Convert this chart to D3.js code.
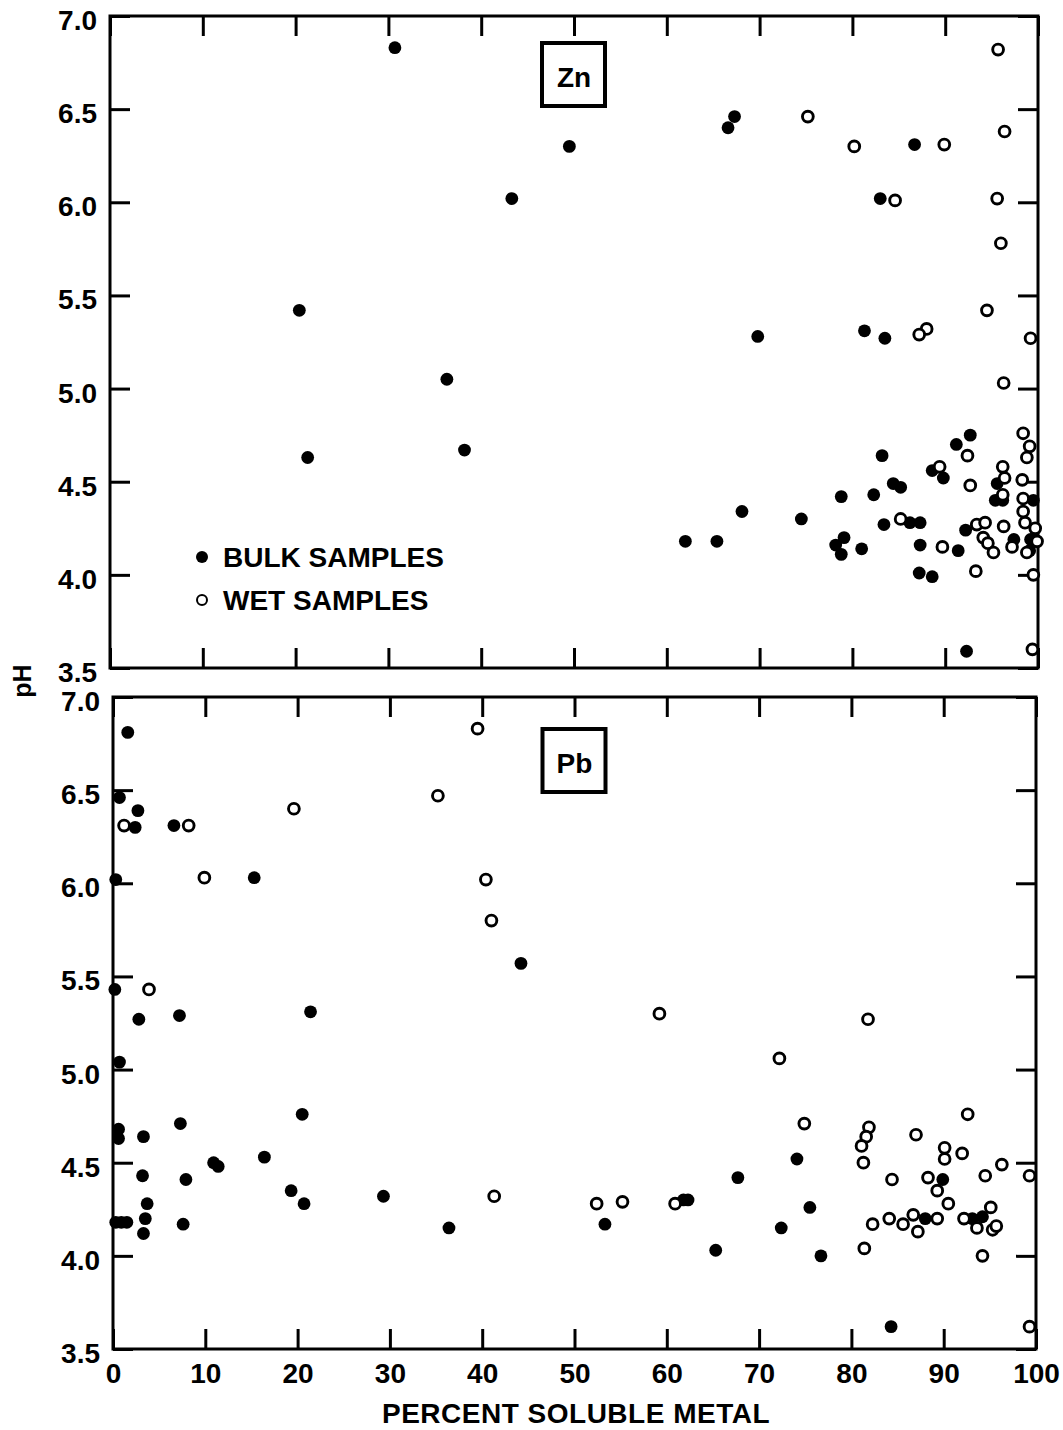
<!DOCTYPE html>
<html>
<head>
<meta charset="utf-8">
<script src="https://cdn.jsdelivr.net/npm/d3@7"></script>
<style>
  html, body { margin: 0; padding: 0; background: #fff; }
  svg { display: block; }
  text { font-family: "Liberation Sans", Arial, Helvetica, sans-serif; font-weight: bold; fill: #000; }
</style>
</head>
<body>
<svg id="chart" width="1063" height="1430"></svg>
<script>
// Axis ticks
const xTicks = [0, 10, 20, 30, 40, 50, 60, 70, 80, 90, 100];
const yTicks = [3.5, 4.0, 4.5, 5.0, 5.5, 6.0, 6.5, 7.0];

// Zn: [percent soluble metal, pH]
const znBulk = [
  [30.7, 6.83], [43.3, 6.02], [49.5, 6.30], [20.4, 5.42], [21.3, 4.63], [36.3, 5.05], [38.2, 4.67],
  [67.3, 6.46], [66.6, 6.40], [86.7, 6.31], [83.0, 6.02], [69.8, 5.28], [81.3, 5.31], [83.5, 5.27],
  [62.0, 4.18], [65.4, 4.18], [68.1, 4.34], [74.5, 4.30], [78.8, 4.42], [79.1, 4.20], [78.2, 4.16],
  [78.8, 4.11], [81.0, 4.14], [82.3, 4.43], [83.2, 4.64], [83.4, 4.27], [84.4, 4.49], [85.2, 4.47],
  [86.2, 4.28], [87.3, 4.28], [87.3, 4.16], [87.2, 4.01], [88.6, 3.99], [88.6, 4.56], [89.8, 4.52],
  [91.2, 4.70], [92.7, 4.75], [91.4, 4.13], [92.2, 4.24], [92.3, 3.59], [95.6, 4.49], [95.4, 4.40],
  [96.2, 4.40], [99.5, 4.40], [97.4, 4.19], [99.2, 4.19], [99.1, 4.13]
];
const znWet = [
  [95.7, 6.82], [75.2, 6.46], [96.4, 6.38], [80.2, 6.30], [89.9, 6.31], [84.6, 6.01], [95.6, 6.02],
  [96.0, 5.78], [94.5, 5.42], [88.0, 5.32], [87.2, 5.29], [99.2, 5.27], [96.3, 5.03], [92.4, 4.64],
  [92.7, 4.48], [89.4, 4.58], [85.2, 4.30], [89.7, 4.15], [93.3, 4.02], [93.4, 4.27], [94.3, 4.28],
  [94.1, 4.20], [94.6, 4.17], [95.2, 4.12], [96.3, 4.26], [96.2, 4.58], [96.4, 4.52], [96.2, 4.43],
  [97.2, 4.15], [98.4, 4.76], [99.1, 4.69], [98.8, 4.63], [98.3, 4.51], [98.4, 4.41], [98.4, 4.34],
  [98.6, 4.28], [99.7, 4.25], [99.9, 4.18], [98.8, 4.12], [99.5, 4.00], [99.4, 3.60]
];

// Pb: [percent soluble metal, pH]
const pbBulk = [
  [1.6, 6.81], [0.7, 6.46], [2.7, 6.39], [2.4, 6.30], [6.6, 6.31], [15.3, 6.03], [0.3, 6.02],
  [0.2, 5.43], [2.8, 5.27], [7.2, 5.29], [21.4, 5.31], [0.7, 5.04], [0.6, 4.68], [0.6, 4.63],
  [3.3, 4.64], [7.3, 4.71], [20.5, 4.76], [16.4, 4.53], [10.9, 4.50], [11.4, 4.48], [3.2, 4.43],
  [7.9, 4.41], [19.3, 4.35], [20.7, 4.28], [3.7, 4.28], [3.5, 4.20], [3.3, 4.12], [7.6, 4.17],
  [0.3, 4.18], [0.9, 4.18], [1.5, 4.18], [29.3, 4.32], [36.4, 4.15], [53.3, 4.17], [61.8, 4.30],
  [62.3, 4.30], [65.3, 4.03], [44.2, 5.57], [74.1, 4.52], [67.7, 4.42], [75.5, 4.26], [72.4, 4.15],
  [76.7, 4.00], [84.3, 3.62], [88.0, 4.20], [89.9, 4.41], [93.1, 4.20], [94.2, 4.21]
];
const pbWet = [
  [1.2, 6.31], [8.2, 6.31], [19.6, 6.40], [9.9, 6.03], [3.9, 5.43], [39.5, 6.83], [35.2, 6.47],
  [40.4, 6.02], [41.0, 5.80], [59.2, 5.30], [81.8, 5.27], [41.3, 4.32], [52.4, 4.28], [55.2, 4.29],
  [60.9, 4.28], [72.2, 5.06], [74.9, 4.71], [81.9, 4.69], [81.6, 4.64], [81.1, 4.59], [81.3, 4.50],
  [87.0, 4.65], [92.6, 4.76], [90.1, 4.58], [90.1, 4.52], [92.0, 4.55], [96.3, 4.49], [84.4, 4.41],
  [88.3, 4.42], [89.3, 4.35], [94.5, 4.43], [99.3, 4.43], [90.5, 4.28], [95.1, 4.26], [82.3, 4.17],
  [84.1, 4.20], [85.6, 4.17], [86.7, 4.22], [87.2, 4.13], [89.3, 4.20], [92.2, 4.20], [93.6, 4.15],
  [95.3, 4.14], [95.7, 4.16], [81.4, 4.04], [94.2, 4.00], [99.3, 3.62]
];

const svg = d3.select("#chart");
svg.append("rect").attr("width", 1063).attr("height", 1430).attr("fill", "#fff");

const panels = [
  { name: "Zn", bulk: znBulk, wet: znWet, x0: 110, x1: 1038, y0: 16, y1: 668, xLabels: false, legend: true },
  { name: "Pb", bulk: pbBulk, wet: pbWet, x0: 113, x1: 1036, y0: 697, y1: 1349, xLabels: true, legend: false }
];

const TICK = 20;
const fmt = d3.format(".1f");

panels.forEach(p => {
  const w = p.x1 - p.x0, h = p.y1 - p.y0;
  const x = d3.scaleLinear().domain([0, 100]).range([0, w]);
  const y = d3.scaleLinear().domain([3.5, 7.0]).range([h, 0]);
  const g = svg.append("g").attr("transform", `translate(${p.x0},${p.y0})`);

  const styleAxis = sel => {
    sel.select(".domain").remove();
    sel.selectAll(".tick line").attr("stroke", "#000").attr("stroke-width", 3);
    sel.selectAll(".tick text").style("font-size", "28px").style("font-weight", "bold")
      .attr("font-family", "Liberation Sans, Arial, sans-serif").attr("fill", "#000");
  };

  // left axis with labels, ticks pointing inward
  g.append("g")
    .call(d3.axisLeft(y).tickValues(yTicks).tickFormat(fmt).tickSizeInner(-TICK).tickSizeOuter(0).tickPadding(13))
    .call(styleAxis)
    .selectAll(".tick text").attr("dy", "0.48em");
  // right axis, ticks only
  g.append("g").attr("transform", `translate(${w},0)`)
    .call(d3.axisRight(y).tickValues(yTicks).tickFormat("").tickSizeInner(-TICK).tickSizeOuter(0))
    .call(styleAxis);
  // top axis, ticks only
  g.append("g")
    .call(d3.axisTop(x).tickValues(xTicks).tickFormat("").tickSizeInner(-TICK).tickSizeOuter(0))
    .call(styleAxis);
  // bottom axis
  const bottom = g.append("g").attr("transform", `translate(0,${h})`)
    .call(d3.axisBottom(x).tickValues(xTicks).tickFormat(p.xLabels ? d3.format("d") : "")
      .tickSizeInner(-TICK).tickSizeOuter(0).tickPadding(14))
    .call(styleAxis);
  bottom.selectAll(".tick text").attr("dy", "0.71em");

  // frame
  g.append("rect").attr("x", 0).attr("y", 0).attr("width", w).attr("height", h)
    .attr("fill", "none").attr("stroke", "#000").attr("stroke-width", 3);

  // bulk samples: filled dots
  g.append("g").selectAll("circle").data(p.bulk).join("circle")
    .attr("cx", d => x(d[0])).attr("cy", d => y(d[1])).attr("r", 6.4)
    .attr("fill", "#000");
  // wet samples: open circles
  g.append("g").selectAll("circle").data(p.wet).join("circle")
    .attr("cx", d => x(d[0])).attr("cy", d => y(d[1])).attr("r", 5.4)
    .attr("fill", "#fff").attr("stroke", "#000").attr("stroke-width", 2.9);

  // element label box
  const cx = x(50), by = p.name === "Zn" ? 27 : 32;
  g.append("rect").attr("x", cx - 32).attr("y", by).attr("width", 63).attr("height", 63)
    .attr("fill", "#fff").attr("stroke", "#000").attr("stroke-width", 4);
  g.append("text").attr("x", cx).attr("y", by + 44).attr("text-anchor", "middle")
    .style("font-size", "28px").text(p.name);

  if (p.legend) {
    const lg = g.append("g").attr("transform", "translate(92,541)");
    lg.append("circle").attr("cx", 0).attr("cy", 0).attr("r", 6).attr("fill", "#000");
    lg.append("text").attr("x", 21).attr("y", 10).style("font-size", "28px").text("BULK SAMPLES");
    lg.append("circle").attr("cx", 0).attr("cy", 43).attr("r", 5).attr("fill", "#fff")
      .attr("stroke", "#000").attr("stroke-width", 2);
    lg.append("text").attr("x", 21).attr("y", 53).style("font-size", "28px").text("WET SAMPLES");
  }
});

// axis titles
svg.append("text").attr("x", 576).attr("y", 1423).attr("text-anchor", "middle")
  .style("font-size", "28px").style("letter-spacing", "0.5px").text("PERCENT SOLUBLE METAL");
svg.append("text").attr("transform", "translate(31,681) rotate(-90)").attr("text-anchor", "middle")
  .style("font-size", "25px").text("pH");
</script>
</body>
</html>
